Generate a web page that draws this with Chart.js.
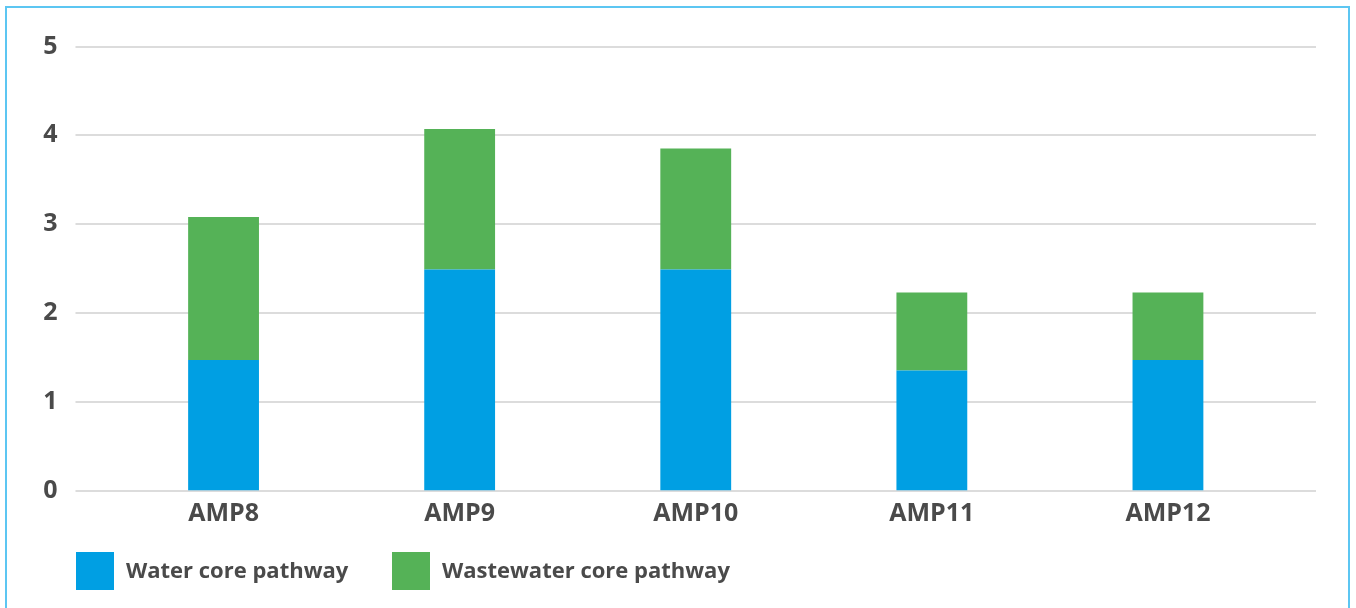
<!DOCTYPE html>
<html>
<head>
<meta charset="utf-8">
<script src="https://cdn.jsdelivr.net/npm/chart.js@4.4.1/dist/chart.umd.min.js"></script>
<style>
  html, body { margin: 0; padding: 0; background: #ffffff; }
  #wrap { position: relative; width: 1356px; height: 608px; overflow: hidden; }
  #frame {
    position: absolute; left: 5px; top: 6px; width: 1345px; height: 640px;
    border: 2px solid #5cc6f2; box-sizing: border-box; pointer-events: none;
  }
  canvas { position: absolute; left: 0; top: 0; }
</style>
</head>
<body>
<div id="wrap">
  <canvas id="chart" width="1356" height="608"></canvas>
  <div id="frame"></div>
</div>
<script>
// Data
const categories = ['AMP8', 'AMP9', 'AMP10', 'AMP11', 'AMP12'];
const waterCore = [1.47, 2.49, 2.49, 1.35, 1.47];
const wastewaterCore = [1.61, 1.58, 1.36, 0.88, 0.76];
const yTicks = [0, 1, 2, 3, 4, 5];

const textColor = '#4a4a4a';
const fontFamily = '"Open Sans", Lato, sans-serif';

// grid lines run a bit past the bar area on both sides
const extendedGrid = {
  id: 'extendedGrid',
  beforeDatasetsDraw(chart) {
    const y = chart.scales.y;
    const area = chart.chartArea;
    const ctx = chart.ctx;
    ctx.save();
    ctx.strokeStyle = '#dcdcdc';
    ctx.lineWidth = 2;
    yTicks.forEach(v => {
      const py = Math.round(y.getPixelForValue(v));
      ctx.beginPath();
      ctx.moveTo(area.left - 30, py);
      ctx.lineTo(area.right + 30, py);
      ctx.stroke();
    });
    ctx.restore();
  }
};

// legend row under the axis, square swatches like the original
const bottomLegend = {
  id: 'bottomLegend',
  afterDraw(chart) {
    const ctx = chart.ctx;
    const startX = [76, 392];
    const boxTop = 552, box = 38;
    ctx.save();
    ctx.font = 'bold 22px ' + fontFamily;
    ctx.textBaseline = 'middle';
    chart.data.datasets.forEach((ds, i) => {
      const x = startX[i];
      ctx.fillStyle = ds.backgroundColor;
      ctx.fillRect(x, boxTop, box, box);
      ctx.fillStyle = textColor;
      ctx.fillText(ds.label, x + box + 12, boxTop + box / 2 + 1);
    });
    ctx.restore();
  }
};

const ctx = document.getElementById('chart').getContext('2d');
new Chart(ctx, {
  type: 'bar',
  data: {
    labels: categories,
    datasets: [
      {
        label: 'Water core pathway',
        data: waterCore,
        backgroundColor: '#009fe3',
        borderWidth: 0
      },
      {
        label: 'Wastewater core pathway',
        data: wastewaterCore,
        backgroundColor: '#55b257',
        borderWidth: 0
      }
    ]
  },
  options: {
    responsive: false,
    animation: false,
    devicePixelRatio: 1,
    layout: { padding: { left: 0, right: 70, top: 46.5, bottom: 57.5 } },
    datasets: {
      bar: { categoryPercentage: 1.0, barPercentage: 0.30 }
    },
    scales: {
      x: {
        stacked: true,
        grid: { display: false, drawTicks: false },
        border: { display: false },
        ticks: {
          color: textColor,
          padding: 8,
          font: { family: fontFamily, size: 25, weight: 'bold' }
        },
        afterFit(scale) { scale.height = 60; }
      },
      y: {
        stacked: true,
        min: 0,
        max: 5,
        grid: { display: false, drawTicks: false },
        border: { display: false },
        afterBuildTicks(scale) { scale.ticks = yTicks.map(v => ({ value: v })); },
        ticks: {
          color: textColor,
          padding: 48,
          font: { family: fontFamily, size: 25, weight: 'bold' }
        },
        afterFit(scale) {
          scale.width = 105.5;
          // tick padding is only meant for the horizontal gap
          scale.paddingTop = 0;
          scale.paddingBottom = 0;
        }
      }
    },
    plugins: {
      legend: { display: false },
      tooltip: { enabled: false },
      title: { display: false }
    }
  },
  plugins: [extendedGrid, bottomLegend]
});
</script>
</body>
</html>
